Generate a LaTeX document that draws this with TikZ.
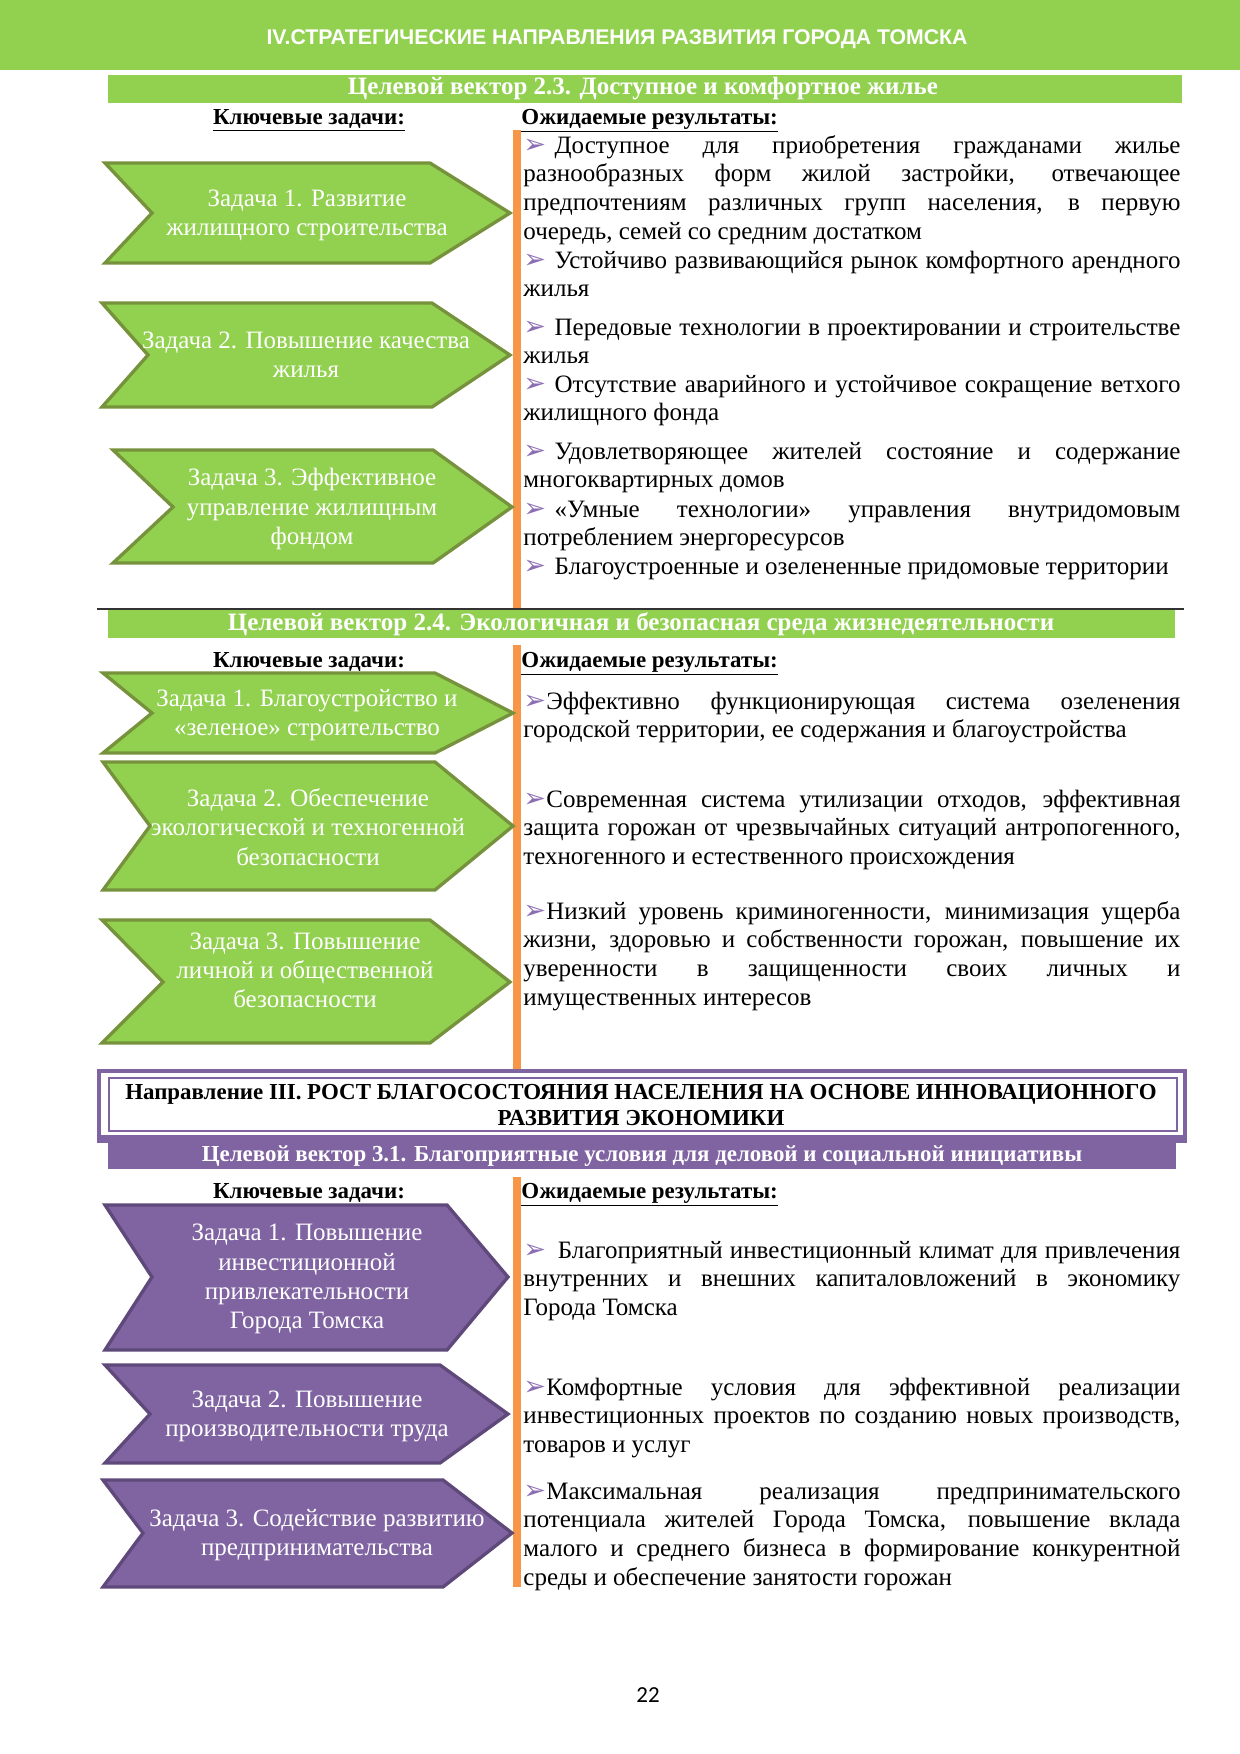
\documentclass[tikz,border=0pt]{standalone}
\usepackage{fontspec}
\setmainfont{Liberation Serif}
\newfontfamily\headfont{Liberation Sans}
\newfontfamily\dingfont{DejaVu Sans}
\newfontfamily\pagefont{Carlito}
\definecolor{tgreen}{RGB}{146,208,80}
\definecolor{tgreenline}{RGB}{118,146,60}
\definecolor{tpurple}{RGB}{128,100,162}
\definecolor{tpurpleline}{RGB}{94,73,122}
\definecolor{torange}{RGB}{247,150,70}
\definecolor{tbullet}{RGB}{140,110,180}
\newcommand{\bul}[1]{\makebox[#1][l]{\dingfont\fontsize{13}{13}\selectfont\color{tbullet}➢}}
\begin{document}
\begin{tikzpicture}[x=0.48pt,y=-0.48pt,
  greenarrow/.style={fill=tgreen,draw=tgreenline,line width=1.6pt},
  purplearrow/.style={fill=tpurple,draw=tpurpleline,line width=1.6pt},
  tasktext/.style={text=white,align=center,inner sep=0pt,font=\fontsize{12}{14}\selectfont},
  vectext/.style={text=white,inner sep=0pt,font=\bfseries\fontsize{12}{14}\selectfont},
  colhead/.style={inner sep=0pt,font=\bfseries\fontsize{11}{13}\selectfont},
  result/.style={anchor=base west,inner sep=0pt,text width=315.4pt,align=justify,
    font=\fontsize{12}{13.8}\selectfont}]
\useasboundingbox (0,0) rectangle (1240,1754);
% page title
\fill[tgreen] (0,0) rectangle (1240,70);
\node[text=white,inner sep=0pt,font=\headfont\bfseries\fontsize{10.2}{12}\selectfont] (title) at (617,39)
  {IV.СТРАТЕГИЧЕСКИЕ НАПРАВЛЕНИЯ РАЗВИТИЯ ГОРОДА ТОМСКА};
% vector 2.3
\fill[tgreen] (108,75) rectangle (1182,103);
\node[vectext] (vec23) at (643,89) {Целевой вектор 2.3. Доступное и комфортное жилье};
\node[colhead,anchor=base] (keyA) at (309,124) {\underline{Ключевые задачи:}};
\node[colhead,anchor=base west] (expA) at (521,124) {\underline{Ожидаемые результаты:}};
\fill[torange] (513,130) rectangle (521,609);
\draw[greenarrow] (105,163) -- (430,163) -- (510,213) -- (430,263) -- (105,263) -- (152,213) -- cycle;
\draw[greenarrow] (102,303) -- (432,303) -- (510,355) -- (432,407) -- (102,407) -- (148,355) -- cycle;
\draw[greenarrow] (113,450) -- (433,450) -- (512,507) -- (433,563) -- (113,563) -- (173,507) -- cycle;
\node[tasktext] (taskA1) at (307,215) {Задача 1. Развитие\\жилищного строительства};
\node[tasktext] (taskA2) at (306,355) {Задача 2. Повышение качества\\жилья};
\node[tasktext] (taskA3) at (312,509) {Задача 3. Эффективное\\управление жилищным\\фондом};
\node[result] (resA1) at (523,153) {\bul{15pt}Доступное для приобретения гражданами жилье\linebreak
  разнообразных форм жилой застройки, отвечающее\linebreak
  предпочтениям различных групп населения, в первую\linebreak
  очередь, семей со средним достатком};
\node[result] (resA2) at (523,268) {\bul{15pt}Устойчиво развивающийся рынок комфортного арендного\linebreak жилья};
\node[result] (resA3) at (523,335) {\bul{15pt}Передовые технологии в проектировании и строительстве\linebreak жилья};
\node[result] (resA4) at (523,392) {\bul{15pt}Отсутствие аварийного и устойчивое сокращение ветхого\linebreak жилищного фонда};
\node[result] (resA5) at (523,459) {\bul{15pt}Удовлетворяющее жителей состояние и содержание\linebreak многоквартирных домов};
\node[result] (resA6) at (523,517) {\bul{15pt}«Умные технологии» управления внутридомовым\linebreak потреблением энергоресурсов};
\node[result] (resA7) at (523,574) {\bul{15pt}Благоустроенные и озелененные придомовые территории};
% vector 2.4
\draw[black!80,line width=0.8pt] (97,609) -- (1184,609);
\fill[tgreen] (108,610) rectangle (1175,638);
\node[vectext] (vec24) at (641,624) {Целевой вектор 2.4. Экологичная и безопасная среда жизнедеятельности};
\node[colhead,anchor=base] (keyB) at (309,667) {\underline{Ключевые задачи:}};
\node[colhead,anchor=base west] (expB) at (521,667) {\underline{Ожидаемые результаты:}};
\fill[torange] (513,645) rectangle (521,1069);
\draw[greenarrow] (103,673) -- (435,673) -- (513,713) -- (435,753) -- (103,753) -- (152,713) -- cycle;
\draw[greenarrow] (103,762) -- (435,762) -- (513,826) -- (435,890) -- (103,890) -- (150,826) -- cycle;
\draw[greenarrow] (102,920) -- (430,920) -- (510,982) -- (430,1043) -- (102,1043) -- (163,982) -- cycle;
\node[tasktext] (taskB1) at (307,715) {Задача 1. Благоустройство и\\«зеленое» строительство};
\node[tasktext] (taskB2) at (308,827) {Задача 2. Обеспечение\\экологической и техногенной\\безопасности};
\node[tasktext] (taskB3) at (305,970) {Задача 3. Повышение\\личной и общественной\\безопасности};
\node[result] (resB1) at (523,709) {\bul{11pt}Эффективно функционирующая система озеленения\linebreak
  городской территории, ее содержания и благоустройства};
\node[result] (resB2) at (523,807) {\bul{11pt}Современная система утилизации отходов, эффективная\linebreak
  защита горожан от чрезвычайных ситуаций антропогенного,\linebreak
  техногенного и естественного происхождения};
\node[result] (resB3) at (523,919) {\bul{11pt}Низкий уровень криминогенности, минимизация ущерба\linebreak
  жизни, здоровью и собственности горожан, повышение их\linebreak
  уверенности в защищенности своих личных и\linebreak
  имущественных интересов};
% direction III
\draw[tpurple,line width=2pt] (99,1071) rectangle (1185,1139);
\draw[tpurple,line width=1pt] (109,1078) rectangle (1177,1131);
\fill[tpurple] (97,1135) rectangle (1187,1143);
\node[colhead,align=center,font=\bfseries\fontsize{11}{12.5}\selectfont] (dirIII) at (641,1105)
  {Направление III. РОСТ БЛАГОСОСТОЯНИЯ НАСЕЛЕНИЯ НА ОСНОВЕ ИННОВАЦИОННОГО\\РАЗВИТИЯ ЭКОНОМИКИ};
% vector 3.1
\fill[tpurple] (108,1143) rectangle (1176,1169);
\node[vectext,font=\bfseries\fontsize{11}{13}\selectfont] (vec31) at (642,1156) {Целевой вектор 3.1. Благоприятные условия для деловой и социальной инициативы};
\node[colhead,anchor=base] (keyC) at (309,1198) {\underline{Ключевые задачи:}};
\node[colhead,anchor=base west] (expC) at (521,1198) {\underline{Ожидаемые результаты:}};
\fill[torange] (513,1177) rectangle (521,1587);
\draw[purplearrow] (105,1205) -- (447,1205) -- (508,1277) -- (447,1350) -- (105,1350) -- (152,1277) -- cycle;
\draw[purplearrow] (105,1365) -- (440,1365) -- (508,1414) -- (440,1463) -- (105,1463) -- (150,1414) -- cycle;
\draw[purplearrow] (103,1480) -- (443,1480) -- (512,1533) -- (443,1587) -- (103,1587) -- (143,1533) -- cycle;
\node[tasktext] (taskC1) at (307,1279) {Задача 1. Повышение\\инвестиционной\\привлекательности\\Города Томска};
\node[tasktext] (taskC2) at (307,1416) {Задача 2. Повышение\\производительности труда};
\node[tasktext] (taskC3) at (317,1535) {Задача 3. Содействие развитию\\предпринимательства};
\node[result] (resC1) at (523,1258) {\bul{16.5pt}Благоприятный инвестиционный климат для привлечения\linebreak
  внутренних и внешних капиталовложений в экономику\linebreak
  Города Томска};
\node[result] (resC2) at (523,1395) {\bul{11pt}Комфортные условия для эффективной реализации\linebreak
  инвестиционных проектов по созданию новых производств,\linebreak
  товаров и услуг};
\node[result] (resC3) at (523,1499) {\bul{11pt}Максимальная реализация предпринимательского\linebreak
  потенциала жителей Города Томска, повышение вклада\linebreak
  малого и среднего бизнеса в формирование конкурентной\linebreak
  среды и обеспечение занятости горожан};
% page number
\node[inner sep=0pt,font=\pagefont\fontsize{11}{13}\selectfont] (pnum) at (648,1695) {22};
\end{tikzpicture}
\end{document}
